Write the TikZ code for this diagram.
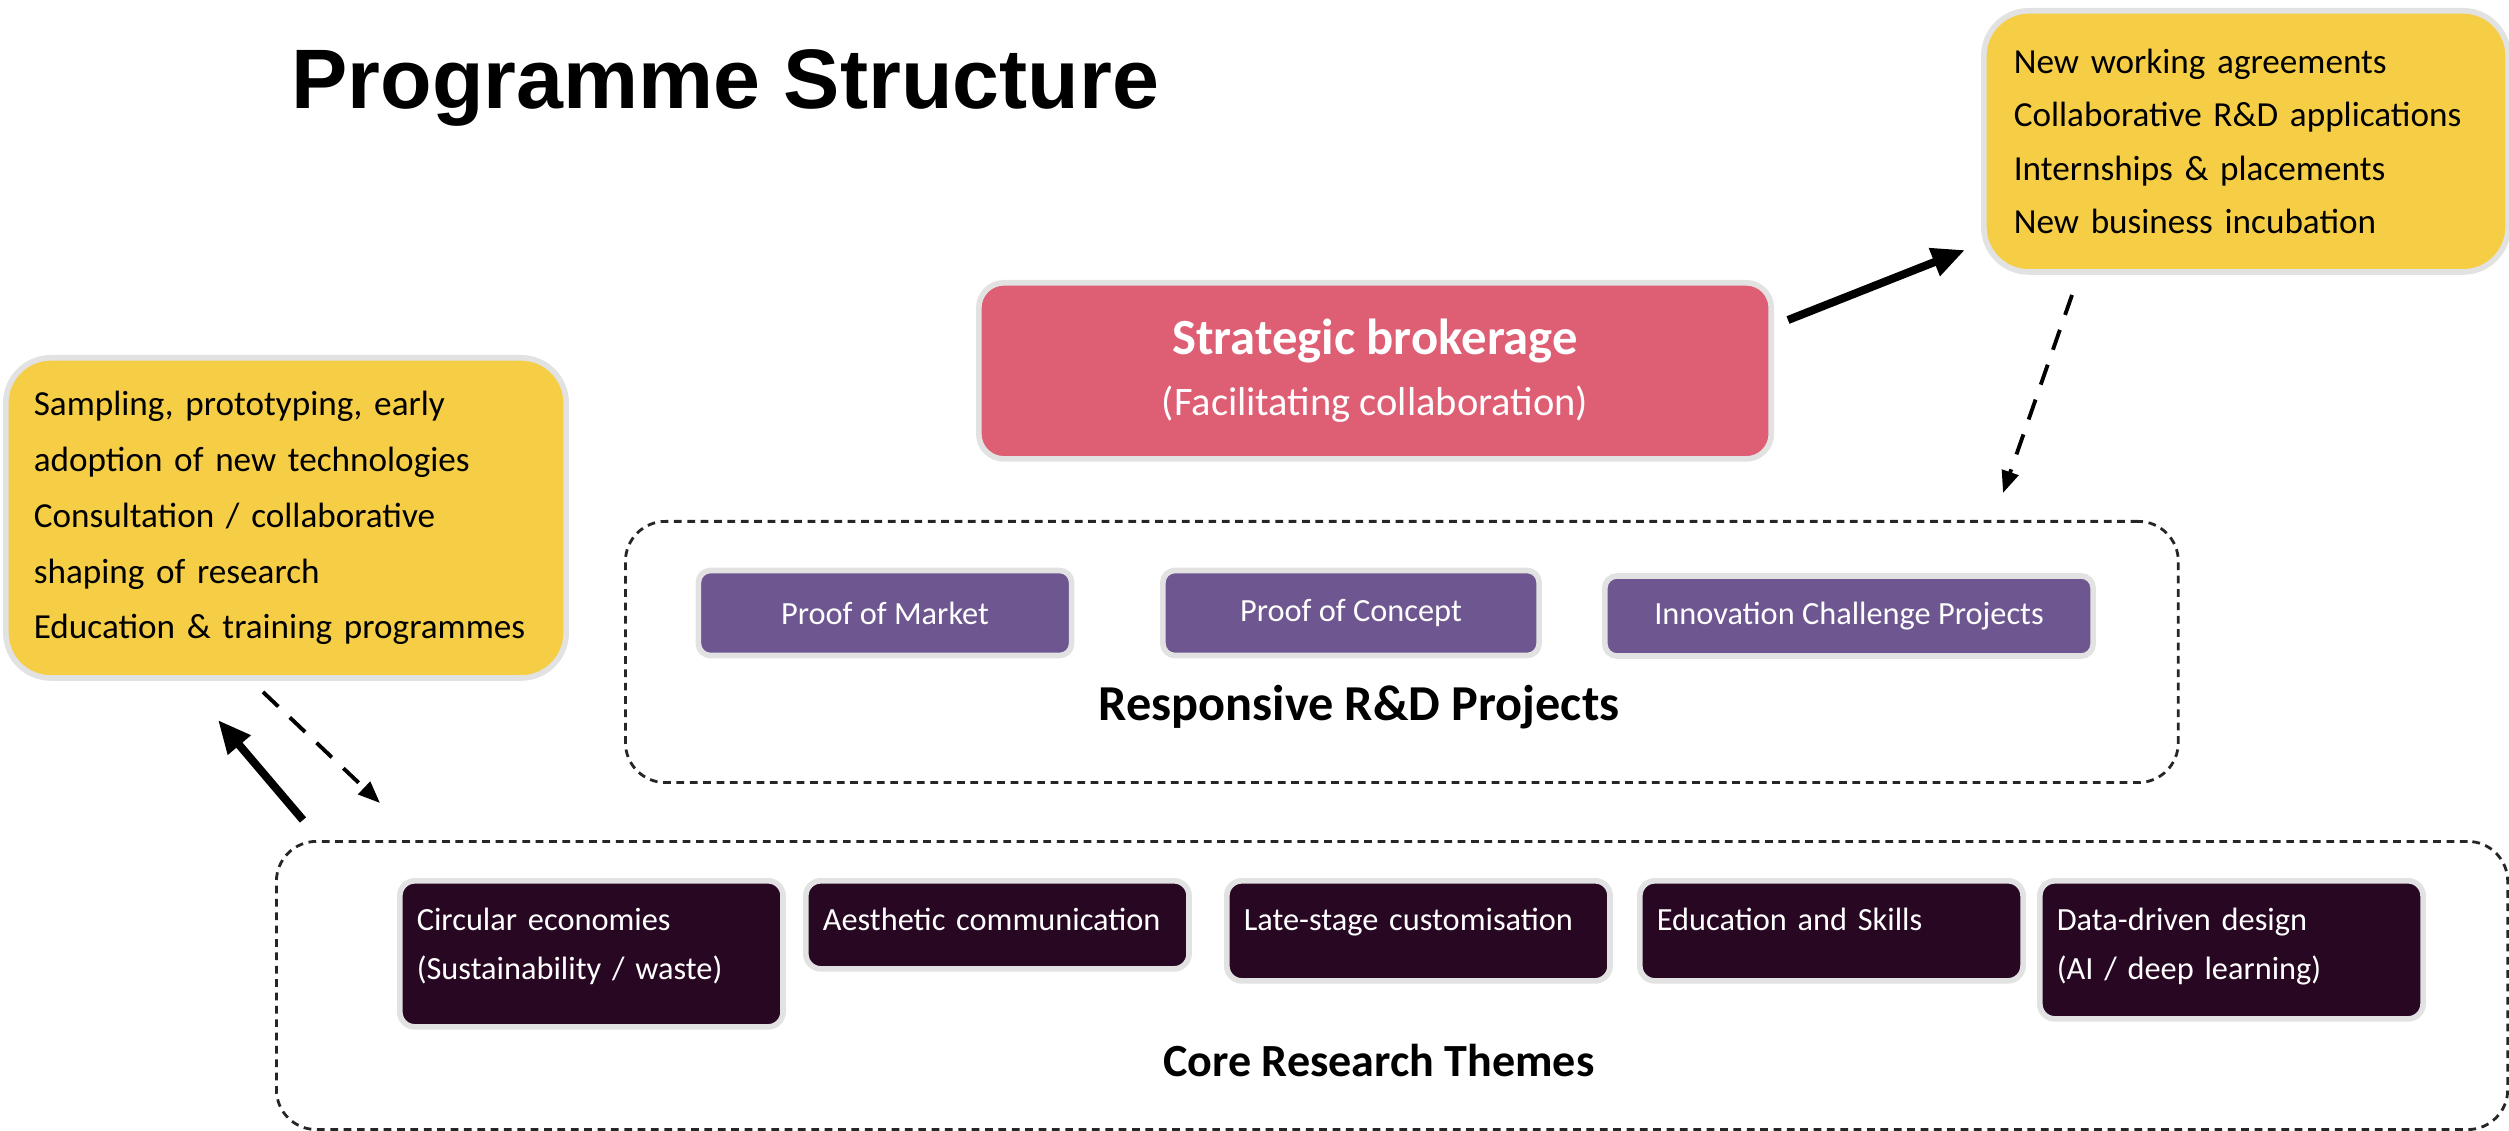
\documentclass[tikz,border=0pt]{standalone}
\usepackage{fontspec}
\setmainfont{Carlito}
\newfontfamily\headfont{Liberation Sans}
\usetikzlibrary{arrows.meta,positioning}
\definecolor{outyellow}{HTML}{F6CE46}
\definecolor{brokerpink}{HTML}{DE5E74}
\definecolor{projpurple}{HTML}{6E5690}
\definecolor{themedark}{HTML}{270722}
\definecolor{rimgrey}{HTML}{E2E2E2}
\begin{document}
\begin{tikzpicture}[x=0.01cm, y=-0.01cm,
	rim/.style={draw=rimgrey, line width=1.6pt},
	outbox/.style={rim, fill=outyellow, rounded corners=0.45cm, anchor=north west, align=left},
	brokerbox/.style={rim, fill=brokerpink, rounded corners=0.25cm, text=white, anchor=north west, minimum width=7.92cm, minimum height=1.76cm, align=center, font=\fontsize{11.5}{13.5}\selectfont},
	projbox/.style={rim, fill=projpurple, rounded corners=0.12cm, text=white, minimum height=0.85cm, font=\fontsize{9.2}{11}\selectfont},
	themebox/.style={rim, fill=themedark, rounded corners=0.15cm, text=white, anchor=north west, align=left, text width=3.49cm, inner xsep=0.17cm, inner ysep=0pt, text height=0.5cm, font=\fontsize{9.2}{13.7}\selectfont},
	group/.style={draw=black!85, dash pattern=on 2.2pt off 1.6pt, line width=0.8pt, rounded corners=0.4cm, anchor=north west},
	grouptitle/.style={font=\bfseries\fontsize{14.3}{16}\selectfont},
	solidarrow/.style={line width=2.3pt, -{Triangle[length=0.33cm, width=0.28cm]}},
	dasharrow/.style={line width=1.1pt, dash pattern=on 6pt off 4.5pt, -{Triangle[length=0.22cm, width=0.17cm]}}]
	\useasboundingbox (0,0) rectangle (2509,1131);

	\node[anchor=base west, font=\headfont\bfseries\fontsize{24}{28}\selectfont] (title) at (279,109) {Programme Structure};

	% outcomes
	\node[outbox, minimum width=5.60cm, minimum height=3.20cm, text width=5.04cm, inner xsep=0.28cm, font=\fontsize{10}{15.9}\selectfont] (inputs) at (3,355)
		{Sampling, prototyping, early\\adoption of new technologies\\Consultation / collaborative\\shaping of research\\Education \& training programmes};
	\node[outbox, minimum width=5.24cm, minimum height=2.61cm, text width=4.64cm, inner xsep=0.30cm, font=\fontsize{10}{15.1}\selectfont] (outputs) at (1981,8)
		{New working agreements\\Collaborative R\&D applications\\Internships \& placements\\New business incubation};

	\node[brokerbox] (brok) at (976,280)
		{{\bfseries\fontsize{14.4}{16}\selectfont Strategic brokerage}\\[3.9pt](Facilitating collaboration)};

	% responsive projects
	\node[group, minimum width=15.52cm, minimum height=2.61cm] (resp) at (624,520) {};
	\node[projbox, minimum width=3.73cm] (market) at (885,613) {Proof of Market};
	\node[projbox, minimum width=3.76cm] (concept) at (1351,613) {Proof of Concept};
	\node[projbox, minimum width=4.88cm, minimum height=0.80cm] (challenge) at (1849,616) {Innovation Challenge Projects};
	\node[grouptitle] (resptitle) at (1359,707) {Responsive R\&D Projects};

	% core themes
	\node[group, minimum width=22.30cm, minimum height=2.88cm] (core) at (275,840) {};
	\node[themebox, text depth=0.96cm] (circular) at (397,878) {Circular economies\\(Sustainability / waste)};
	\node[themebox, text depth=0.38cm] (aesthetic) at (803,878) {Aesthetic communication};
	\node[themebox, text depth=0.50cm] (latestage) at (1224,878) {Late-stage customisation};
	\node[themebox, text depth=0.50cm] (skills) at (1637,878) {Education and Skills};
	\node[themebox, text depth=0.88cm] (datadriven) at (2037,878) {Data-driven design\\(AI / deep learning)};
	\node[grouptitle, font=\bfseries\fontsize{13.1}{16}\selectfont] (coretitle) at (1379,1061) {Core Research Themes};

	% arrows
	\coordinate (brokout) at (1788,320);
	\coordinate (outin) at (1965,250);
	\coordinate (outdown) at (2072,295);
	\coordinate (respin) at (2003,493);
	\coordinate (coreup) at (303,820);
	\coordinate (inputin) at (218,720);
	\coordinate (inputdown) at (263,692);
	\coordinate (corein) at (380,803);
	\draw[solidarrow] (brokout) -- (outin);
	\draw[dasharrow] (outdown) -- (respin);
	\draw[solidarrow] (coreup) -- (inputin);
	\draw[dasharrow] (inputdown) -- (corein);
\end{tikzpicture}
\end{document}
